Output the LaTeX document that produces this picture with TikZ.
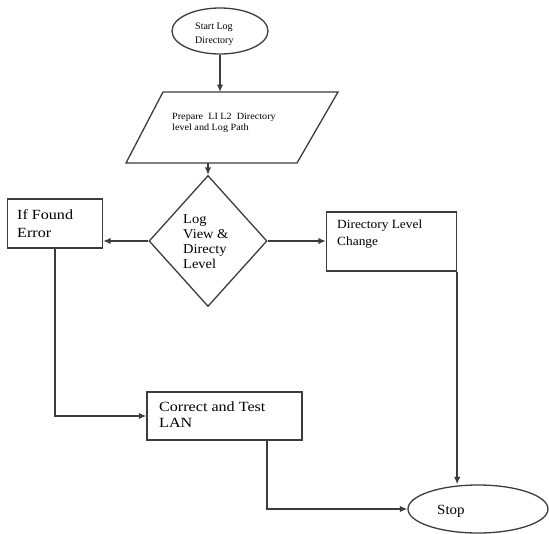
\documentclass[tikz,border=0pt]{standalone}
\usepackage{fontspec}
\setmainfont{Liberation Serif}
\newfontfamily\wideA[FakeStretch=1.15]{Liberation Serif}
\newfontfamily\wideB[FakeStretch=1.07]{Liberation Serif}
\usetikzlibrary{shapes.geometric,arrows.meta,calc}
\definecolor{linegray}{HTML}{3C3C3C}
\begin{document}
\begin{tikzpicture}[x=1pt,y=-1pt]
\tikzset{
  shapeline/.style={draw=linegray, line width=1.3pt},
  conn/.style={draw=linegray, line width=1.5pt, -{Latex[length=7.5pt,width=6.5pt]}},
  lbl/.style={inner sep=0pt, align=left, anchor=base west, text=black},
}
\useasboundingbox (0,0) rectangle (549,533);

% shapes
\node[ellipse, shapeline, minimum width=96pt, minimum height=46pt, inner sep=0pt] (start) at (220,31) {};
\coordinate (p1) at (163,92);
\coordinate (p2) at (338,92);
\coordinate (p3) at (297,163);
\coordinate (p4) at (126,163);
\draw[shapeline] (p1) -- (p2) -- (p3) -- (p4) -- cycle;
\coordinate (ptop) at (220,92);
\coordinate (pbot) at (208,163);
\node[diamond, shapeline, minimum width=118pt, minimum height=131pt, inner sep=0pt] (dec) at (208,241) {};
\node[rectangle, shapeline, minimum width=95pt, minimum height=49pt, inner sep=0pt] (err) at (55,223.5) {};
\node[rectangle, shapeline, minimum width=130pt, minimum height=59pt, inner sep=0pt] (dir) at (391.5,241.5) {};
\node[rectangle, shapeline, minimum width=155pt, minimum height=48pt, inner sep=0pt] (corr) at (224.5,416) {};
\node[ellipse, shapeline, minimum width=140pt, minimum height=48pt, inner sep=0pt] (stop) at (478,509) {};

% texts (anchor = baseline of last line)
\node[lbl, font=\fontsize{10}{14}\selectfont] (starttxt) at (195,43) {Start Log\\Directory};
\node[lbl, font=\wideB\fontsize{9.5}{11}\selectfont] (paratxt) at (172,130) {Prepare\ \ LI L2\ \ Directory\\level and Log Path};
\node[lbl, font=\wideB\fontsize{13.5}{15}\selectfont] (dectxt) at (183,268) {Log\\View \&\\Directy\\Level};
\node[lbl, font=\wideA\fontsize{14}{18}\selectfont] (errtxt) at (17,237) {If Found\\Error};
\node[lbl, font=\wideB\fontsize{12.5}{17}\selectfont] (dirtxt) at (337,245) {Directory Level\\Change};
\node[lbl, font=\wideA\fontsize{14}{16}\selectfont] (corrtxt) at (159,427) {Correct and Test\\LAN};
\node[lbl, font=\wideB\fontsize{14}{16}\selectfont] (stoptxt) at (437,514) {Stop};

% connectors
\draw[conn] (start.south) -- (ptop);
\draw[conn] (pbot) -- (dec.north);
\draw[conn] (dec.west) -- (dec.west -| err.east);
\draw[conn] (dec.east) -- (dec.east -| dir.west);
\draw[conn] (err.south) |- (corr.west);
\draw[conn] ([xshift=42.5pt]corr.south) |- (stop.west);
\draw[conn] (dir.south east) -- (dir.south east |- stop.north);
\end{tikzpicture}
\end{document}
